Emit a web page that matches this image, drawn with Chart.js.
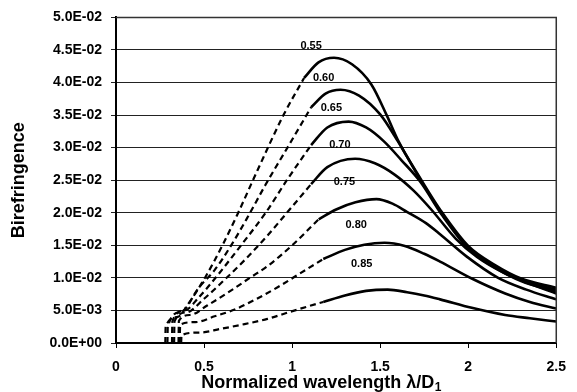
<!DOCTYPE html>
<html>
<head>
<meta charset="utf-8">
<script src="https://cdn.jsdelivr.net/npm/chart.js@4.4.0/dist/chart.umd.min.js"></script>
<style>
  body { margin: 0; background: #fff; }
  #wrap { width: 577px; height: 392px; }
</style>
</head>
<body>
<div id="wrap"><canvas id="biChart" width="577" height="392"></canvas></div>
<script>
// core ratio of each curve, shown as the label above it
const ratios = ['0.55', '0.60', '0.65', '0.70', '0.75', '0.80', '0.85'];

// dashed part (short wavelengths), [x, y] pairs
const dash055 = [[0.280, 0], [0.282, 0.0025], [0.35, 0.0040], [0.405, 0.0058], [0.507, 0.0101], [0.608, 0.0152], [0.692, 0.0199], [0.803, 0.0265], [0.951, 0.0350], [1.068, 0.0407]];
const dash060 = [[0.292, 0], [0.294, 0.0025], [0.37, 0.0048], [0.47, 0.0085], [0.56, 0.0112], [0.654, 0.0150], [0.747, 0.0193], [0.849, 0.0243], [0.98, 0.0303], [1.108, 0.0362]];
const dash065 = [[0.318, 0], [0.320, 0.0033], [0.39, 0.0050], [0.47, 0.0070], [0.58, 0.0105], [0.71, 0.0150], [0.85, 0.0200], [0.97, 0.0250], [1.108, 0.0304]];
const dash070 = [[0.330, 0], [0.332, 0.0033], [0.40, 0.0047], [0.50, 0.0068], [0.62, 0.0098], [0.74, 0.0130], [0.86, 0.0165], [0.98, 0.0203], [1.108, 0.0244]];
const dash075 = [[0.355, 0], [0.357, 0.0034], [0.42, 0.0043], [0.52, 0.0058], [0.65, 0.0080], [0.76, 0.0100], [0.86, 0.0118], [1.0, 0.0150], [1.151, 0.0190]];
const dash080 = [[0.362, 0], [0.364, 0.0028], [0.45, 0.0032], [0.56, 0.0041], [0.67, 0.0051], [0.80, 0.0068], [0.92, 0.0086], [1.04, 0.0106], [1.177, 0.0129]];
const dash085 = [[0.370, 0], [0.372, 0.0012], [0.47, 0.0016], [0.60, 0.0022], [0.73, 0.0029], [0.86, 0.0037], [0.99, 0.0048], [1.10, 0.0057], [1.177, 0.0063]];

// solid part (long wavelengths)
const solid055 = [[1.068, 0.0407], [1.15, 0.0431], [1.238, 0.0438], [1.34, 0.0428], [1.45, 0.0397], [1.54, 0.0348], [1.6, 0.0312], [1.73, 0.0252], [1.85, 0.0201], [2.0, 0.0149], [2.15, 0.0120], [2.3, 0.0099], [2.5, 0.0085]];
const solid060 = [[1.108, 0.0362], [1.19, 0.0383], [1.275, 0.0389], [1.38, 0.0380], [1.5, 0.0351], [1.6, 0.0310], [1.73, 0.0250], [1.85, 0.0199], [2.0, 0.0147], [2.15, 0.0118], [2.3, 0.0097], [2.5, 0.0082]];
const solid065 = [[1.108, 0.0304], [1.2, 0.0331], [1.321, 0.0340], [1.42, 0.0331], [1.52, 0.0310], [1.62, 0.0281], [1.73, 0.0247], [1.85, 0.0197], [2.0, 0.0145], [2.15, 0.0116], [2.3, 0.0095], [2.5, 0.0079]];
const solid070 = [[1.108, 0.0244], [1.2, 0.0270], [1.358, 0.0283], [1.47, 0.0276], [1.58, 0.0259], [1.69, 0.0234], [1.79, 0.0205], [1.93, 0.0160], [2.05, 0.0132], [2.2, 0.0108], [2.35, 0.0091], [2.5, 0.0076]];
const solid075 = [[1.151, 0.0190], [1.25, 0.0205], [1.36, 0.0216], [1.479, 0.0221], [1.57, 0.0214], [1.654, 0.0201], [1.76, 0.0184], [1.84, 0.0167], [1.99, 0.0133], [2.17, 0.0100], [2.33, 0.0082], [2.5, 0.0067]];
const solid080 = [[1.177, 0.0129], [1.3, 0.0143], [1.41, 0.0151], [1.525, 0.0154], [1.64, 0.0149], [1.75, 0.0137], [1.84, 0.0125], [2.02, 0.0099], [2.21, 0.0076], [2.35, 0.0063], [2.5, 0.0053]];
const solid085 = [[1.177, 0.0063], [1.3, 0.0073], [1.42, 0.0080], [1.543, 0.0082], [1.653, 0.0078], [1.75, 0.0073], [1.84, 0.0067], [2.02, 0.0054], [2.21, 0.0043], [2.35, 0.0038], [2.5, 0.0033]];

// where each ratio label sits (data units)
const labelX = [1.108, 1.179, 1.223, 1.271, 1.297, 1.364, 1.395];
const labelY = [0.0456, 0.0407, 0.0361, 0.0304, 0.0247, 0.0182, 0.0122];

const dashed = [dash055, dash060, dash065, dash070, dash075, dash080, dash085];
const solid = [solid055, solid060, solid065, solid070, solid075, solid080, solid085];

const FONT = "'Liberation Sans', Arial, sans-serif";

function toPts(arr) {
    return arr.map(p => ({ x: p[0], y: p[1] }));
}

const datasets = [];
ratios.forEach((r, i) => {
    datasets.push({
        label: r + ' dashed',
        data: toPts(dashed[i]),
        borderColor: '#000',
        borderWidth: 2.2,
        borderDash: [6, 4],
        pointRadius: 0,
        cubicInterpolationMode: 'monotone'
    });
    datasets.push({
        label: r,
        data: toPts(solid[i]),
        borderColor: '#000',
        borderWidth: 2.6,
        pointRadius: 0,
        cubicInterpolationMode: 'monotone'
    });
});

function sciLabel(v) {
    const parts = Number(v).toExponential(1).toUpperCase().split('E');
    let e = parseInt(parts[1], 10);
    const sign = e < 0 ? '-' : '+';
    e = Math.abs(e);
    return parts[0] + 'E' + sign + (e < 10 ? '0' + e : e);
}

// box around the plot area
const framePlugin = {
    id: 'frame',
    afterDatasetsDraw(chart) {
        const a = chart.chartArea;
        const ctx = chart.ctx;
        ctx.save();
        ctx.strokeStyle = '#333';
        ctx.lineWidth = 1.5;
        ctx.beginPath();
        ctx.moveTo(a.left, a.top);
        ctx.lineTo(a.right, a.top);
        ctx.lineTo(a.right, a.bottom);
        ctx.stroke();
        ctx.restore();
    }
};

// ratio labels + x axis title with subscript
const textPlugin = {
    id: 'texts',
    afterDraw(chart) {
        const ctx = chart.ctx;
        const xs = chart.scales.x, ys = chart.scales.y;
        ctx.save();
        ctx.fillStyle = '#000';
        ctx.font = 'bold 11px ' + FONT;
        ctx.textAlign = 'center';
        ctx.textBaseline = 'middle';
        ratios.forEach((r, i) => {
            ctx.fillText(r, xs.getPixelForValue(labelX[i]), ys.getPixelForValue(labelY[i]));
        });

        const main = 'Normalized wavelength \u03bb/D';
        const sub = '1';
        ctx.font = 'bold 18px ' + FONT;
        const w1 = ctx.measureText(main).width;
        ctx.font = 'bold 12px ' + FONT;
        const w2 = ctx.measureText(sub).width;
        const x0 = 321 - (w1 + w2) / 2;
        ctx.textAlign = 'left';
        ctx.textBaseline = 'alphabetic';
        ctx.font = 'bold 18px ' + FONT;
        ctx.fillText(main, x0, 388);
        ctx.font = 'bold 12px ' + FONT;
        ctx.fillText(sub, x0 + w1 + 0.5, 391);
        ctx.restore();
    }
};

new Chart(document.getElementById('biChart').getContext('2d'), {
    type: 'line',
    data: { datasets: datasets },
    options: {
        responsive: false,
        animation: false,
        devicePixelRatio: 1,
        layout: { padding: { top: 16, right: 11, left: 0, bottom: 0 } },
        plugins: {
            legend: { display: false },
            tooltip: { enabled: false }
        },
        scales: {
            x: {
                type: 'linear',
                min: 0,
                max: 2.5,
                afterFit: s => { s.height = 49; },
                ticks: {
                    stepSize: 0.5,
                    color: '#000',
                    padding: 11,
                    font: { family: FONT, size: 14, weight: 'bold' },
                    maxRotation: 0,
                    callback: v => String(Math.round(v * 10) / 10)
                },
                grid: { drawOnChartArea: false, tickLength: 5, color: '#000', lineWidth: 1 },
                border: { color: '#000', width: 2 }
            },
            y: {
                type: 'linear',
                min: 0,
                max: 0.05,
                afterFit: s => { s.width = 116; },
                ticks: {
                    stepSize: 0.005,
                    color: '#000',
                    padding: 9,
                    font: { family: FONT, size: 14, weight: 'bold' },
                    callback: v => sciLabel(v)
                },
                grid: { color: '#222', lineWidth: 1, tickLength: 5 },
                border: { color: '#000', width: 2 },
                title: {
                    display: true,
                    text: 'Birefringence',
                    color: '#000',
                    font: { family: FONT, size: 18, weight: 'bold' },
                    padding: { top: 8, bottom: 0 }
                }
            }
        }
    },
    plugins: [framePlugin, textPlugin]
});
</script>
</body>
</html>
